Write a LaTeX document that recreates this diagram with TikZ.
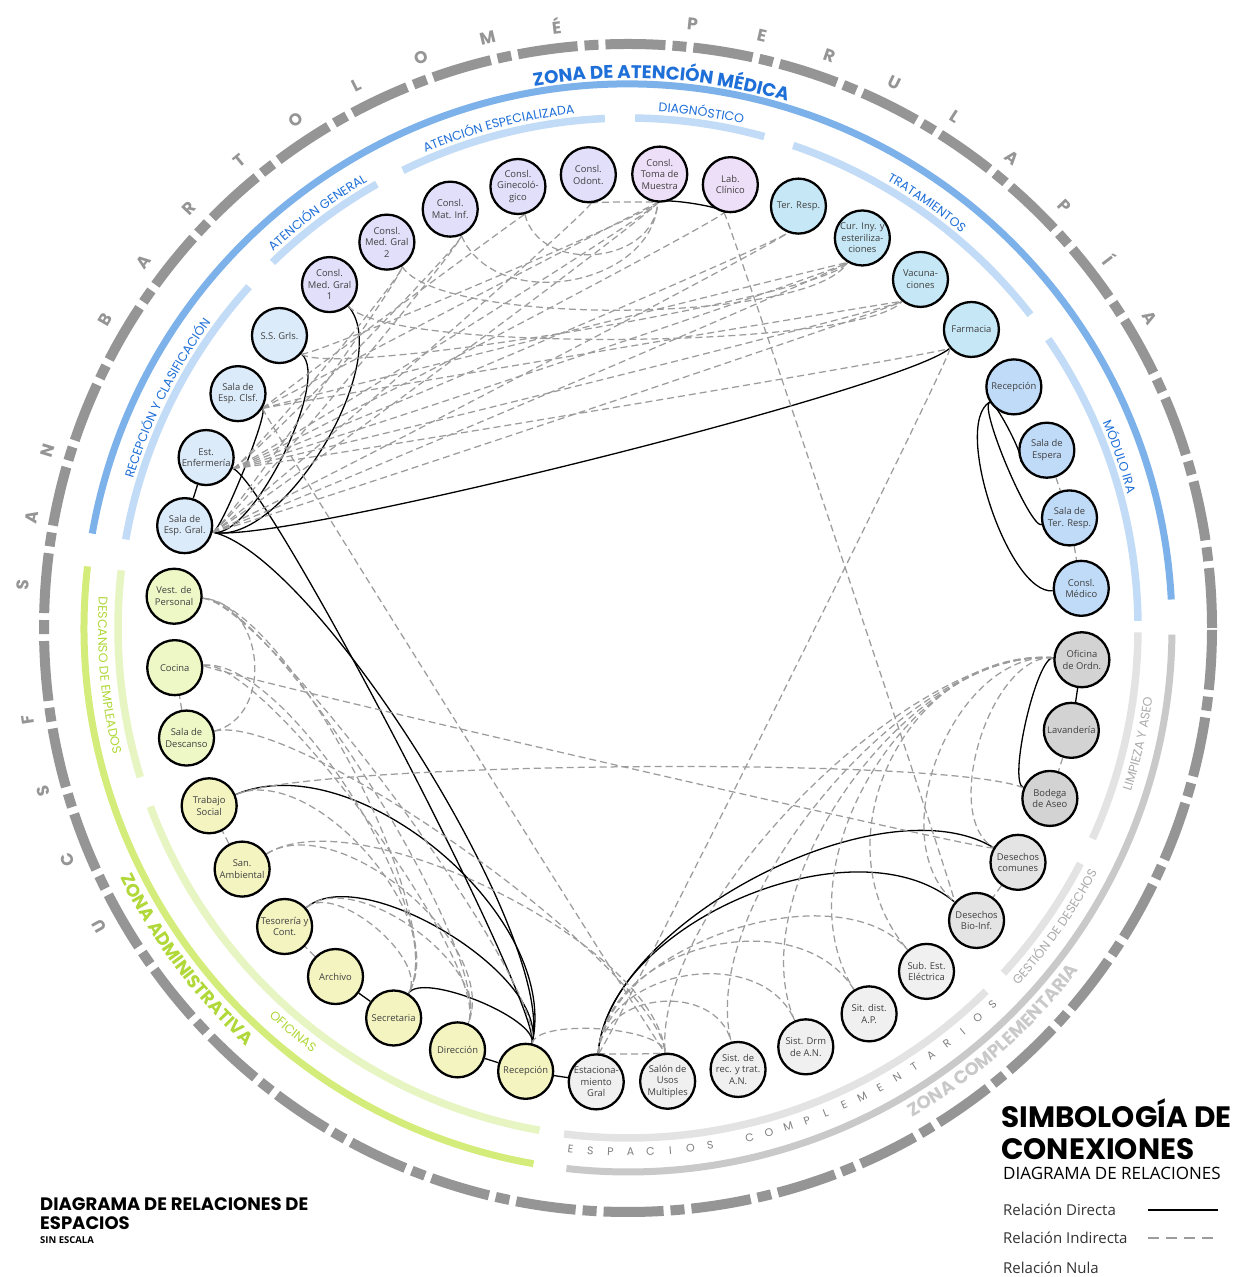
\documentclass[tikz,border=0pt]{standalone}
\usepackage{fontspec}
\setmainfont{Open Sans}
\newfontfamily\pop{Poppins}
\usetikzlibrary{calc,decorations.text}
\pgfdeclarelayer{back}
\pgfsetlayers{back,main}

% palette
\definecolor{zblue}{HTML}{7DB1E9}
\definecolor{sblue}{HTML}{C2DBF6}
\definecolor{tblue}{HTML}{1E6FD8}
\definecolor{zgreen}{HTML}{D3EC7A}
\definecolor{sgreen}{HTML}{E6F5C2}
\definecolor{tgreen}{HTML}{B0D838}
\definecolor{zgray}{HTML}{C9C9C9}
\definecolor{sgray}{HTML}{E3E3E3}
\definecolor{tgray}{HTML}{ABABAB}
\definecolor{ringgray}{HTML}{959595}
\definecolor{dgray}{HTML}{9C9C9C}
\definecolor{fA}{HTML}{DCEBFA}
\definecolor{fB}{HTML}{E2DFFA}
\definecolor{fC}{HTML}{EEDFF8}
\definecolor{fD}{HTML}{C6E8F6}
\definecolor{fE}{HTML}{C0DBF8}
\definecolor{fF}{HTML}{D3D3D3}
\definecolor{fG}{HTML}{E4E4E4}
\definecolor{fH}{HTML}{F0F0F0}
\definecolor{fI}{HTML}{F4F4C1}
\definecolor{fJ}{HTML}{EEF8C6}

% link between rooms, pulled toward the centre of the ring
\newcommand\lk[4][ind]{\draw[#1] (n#2) .. controls ($(n#2)!#4!(C)$) and ($(n#3)!#4!(C)$) .. (n#3);}
% arc of the zone rings
\newcommand\zarc[4]{\draw[#4] ($(C)+(#2:#1)$) arc[start angle=#2,end angle=#3,radius=#1];}
% curved labels: clockwise (tops outward) and counter-clockwise (tops inward)
\newcommand\cwtext[5]{\path[decorate,decoration={text along path,text align=center,text color=#4,text={|#3|#5}}]
  ($(C)+({#1+40}:#2)$) arc[start angle={#1+40},end angle={#1-40},radius=#2];}
\newcommand\ccwtext[5]{\path[decorate,decoration={text along path,text align=center,text color=#4,text={|#3|#5}}]
  ($(C)+({#1-40}:#2)$) arc[start angle={#1-40},end angle={#1+40},radius=#2];}
% spaced letters around the outer ring
\newcommand\ringletters[5]{\foreach \ch [count=\i from 0] in {#5}
  {\node[rotate={#1+\i*#2-90},font=#4,text=ringgray,inner sep=0pt] at ($(C)+({#1+\i*#2}:#3)$) {\ch};}}
\newcommand\ringlettersin[5]{\foreach \ch [count=\i from 0] in {#5}
  {\node[rotate={#1+\i*#2+90},font=#4,text=#3,inner sep=0pt] at ($(C)+({#1+\i*#2}:524)$) {\ch};}}

\begin{document}
\begin{tikzpicture}[x=1pt,y=1pt,
  nd/.style={circle,draw=black,line width=2.3pt,minimum size=55pt,inner sep=0pt,align=center,
    font=\fontsize{9.4}{11.6}\selectfont,text=black!75},
  dir/.style={draw=black,line width=1.3pt},
  ind/.style={draw=dgray,line width=1.25pt,dash pattern=on 7pt off 4pt},
  outer/.style={draw=ringgray,line width=10pt,dash pattern=on 60pt off 7pt on 14pt off 7pt},
  zb/.style={draw=zblue,line width=7pt},
  sb/.style={draw=sblue,line width=7.5pt},
  zg/.style={draw=zgreen,line width=7pt},
  sg/.style={draw=sgreen,line width=7.5pt},
  zk/.style={draw=zgray,line width=7pt},
  sk/.style={draw=sgray,line width=7.5pt},
]
\useasboundingbox (0,0) rectangle (1239,1277);
\coordinate (C) at (628,649);

% ---------- rooms ----------
\node[nd,fill=fA] (n1) at ($(C)+(167:455)$) {Sala de\\Esp. Gral.};
\node[nd,fill=fA] (n2) at ($(C)+(158:455)$) {Est.\\Enfermería};
\node[nd,fill=fA] (n3) at ($(C)+(149:455)$) {Sala de\\Esp. Clsf.};
\node[nd,fill=fA] (n4) at ($(C)+(140:455)$) {S.S. Grls.};
\node[nd,fill=fB] (n5) at ($(C)+(131:455)$) {Consl.\\Med. Gral\\1};
\node[nd,fill=fB] (n6) at ($(C)+(122:455)$) {Consl.\\Med. Gral\\2};
\node[nd,fill=fB] (n7) at ($(C)+(113:455)$) {Consl.\\Mat. Inf.};
\node[nd,fill=fB] (n8) at ($(C)+(104:455)$) {Consl.\\Ginecoló-\\gico};
\node[nd,fill=fB] (n9) at ($(C)+(95:455)$) {Consl.\\Odont.};
\node[nd,fill=fC] (n10) at ($(C)+(86:455)$) {Consl.\\Toma de\\Muestra};
\node[nd,fill=fC] (n11) at ($(C)+(77:455)$) {Lab.\\Clínico};
\node[nd,fill=fD] (n12) at ($(C)+(68:455)$) {Ter. Resp.};
\node[nd,fill=fD] (n13) at ($(C)+(59:455)$) {Cur. Iny. y\\esteriliza-\\ciones};
\node[nd,fill=fD] (n14) at ($(C)+(50:455)$) {Vacuna-\\ciones};
\node[nd,fill=fD] (n15) at ($(C)+(41:455)$) {Farmacia};
\node[nd,fill=fE] (n16) at ($(C)+(32:455)$) {Recepción};
\node[nd,fill=fE] (n17) at ($(C)+(23:455)$) {Sala de\\Espera};
\node[nd,fill=fE] (n18) at ($(C)+(14:455)$) {Sala de\\Ter. Resp.};
\node[nd,fill=fE] (n19) at ($(C)+(5:455)$) {Consl.\\Médico};
\node[nd,fill=fF] (n20) at ($(C)+(-4:455)$) {Oficina\\de Ordn.};
\node[nd,fill=fF] (n21) at ($(C)+(-13:455)$) {Lavandería};
\node[nd,fill=fF] (n22) at ($(C)+(-22:455)$) {Bodega\\de Aseo};
\node[nd,fill=fG] (n23) at ($(C)+(-31:455)$) {Desechos\\comunes};
\node[nd,fill=fG] (n24) at ($(C)+(-40:455)$) {Desechos\\Bio-Inf.};
\node[nd,fill=fH] (n25) at ($(C)+(-49:455)$) {Sub. Est.\\Eléctrica};
\node[nd,fill=fH] (n26) at ($(C)+(-58:455)$) {Sit. dist.\\A.P.};
\node[nd,fill=fH] (n27) at ($(C)+(-67:455)$) {Sist. Drm\\de A.N.};
\node[nd,fill=fH] (n28) at ($(C)+(-76:455)$) {Sist. de\\rec. y trat.\\A.N.};
\node[nd,fill=fH] (n29) at ($(C)+(-85:455)$) {Salón de\\Usos\\Multiples};
\node[nd,fill=fH] (n30) at ($(C)+(-94:455)$) {Estaciona-\\miento\\Gral};
\node[nd,fill=fI] (n31) at ($(C)+(-103:455)$) {Recepción};
\node[nd,fill=fI] (n32) at ($(C)+(-112:455)$) {Dirección};
\node[nd,fill=fI] (n33) at ($(C)+(-121:455)$) {Secretaria};
\node[nd,fill=fI] (n34) at ($(C)+(-130:455)$) {Archivo};
\node[nd,fill=fI] (n35) at ($(C)+(-139:455)$) {Tesorería y\\Cont.};
\node[nd,fill=fI] (n36) at ($(C)+(-148:455)$) {San.\\Ambiental};
\node[nd,fill=fI] (n37) at ($(C)+(-157:455)$) {Trabajo\\Social};
\node[nd,fill=fJ] (n38) at ($(C)+(-166:455)$) {Sala de\\Descanso};
\node[nd,fill=fJ] (n39) at ($(C)+(-175:455)$) {Cocina};
\node[nd,fill=fJ] (n40) at ($(C)+(176:455)$) {Vest. de\\Personal};

\begin{pgfonlayer}{back}
\fill[white] (0,0) rectangle (1239,1277);
% ---------- rings ----------
\draw[outer] (C) circle[radius=584];
\zarc{544}{170}{3}{zb}
\zarc{544}{173.5}{260}{zg}
\zarc{544}{263.5}{359.3}{zk}
\zarc{510}{170}{138}{sb}
\zarc{510}{134.2}{119.5}{sb}
\zarc{510}{116.2}{92.6}{sb}
\zarc{510}{89.2}{74.5}{sb}
\zarc{510}{71.1}{37.9}{sb}
\zarc{510}{34.5}{0.8}{sb}
\zarc{510}{173.5}{197}{sg}
\zarc{510}{200.5}{260}{sg}
\zarc{510}{262.8}{314.6}{sk}
\zarc{510}{317.4}{332.5}{sk}
\zarc{510}{335.6}{359.5}{sk}

% ---------- direct relations ----------
\draw[dir] (n1)--(n2);
\lk[dir]{1}{3}{0.08}
\lk[dir]{1}{4}{0.15}
\lk[dir]{1}{5}{0.22}
\lk[dir]{1}{15}{0.2}
\lk[dir]{1}{31}{0.3}
\lk[dir]{2}{31}{0.15}
\lk[dir]{10}{11}{0.05}
\lk[dir]{16}{17}{0.05}
\lk[dir]{16}{18}{0.09}
\lk[dir]{16}{19}{0.16}
\draw[dir] (n20)--(n21);
\lk[dir]{20}{22}{0.1}
\lk[dir]{23}{30}{0.35}
\lk[dir]{24}{30}{0.35}
\draw[dir] (n30)--(n31);
\draw[dir] (n31)--(n32);
\lk[dir]{31}{33}{0.12}
\lk[dir]{31}{35}{0.22}
\lk[dir]{31}{37}{0.35}
\draw[dir] (n33)--(n34);

% ---------- indirect relations ----------
\foreach \t in {6,7,9,10,12,13,14}{\lk{1}{\t}{0.08}}
\foreach \t in {6,7,10,11,12,13,14,15}{\lk{2}{\t}{0.08}}
\foreach \t in {8,10,13,14}{\lk{3}{\t}{0.06}}
\lk{3}{29}{0.05}
\lk{4}{13}{0.15}
\lk{4}{10}{0.08}
\lk{5}{14}{0.2}
\lk{6}{13}{0.22}
\lk{7}{10}{0.25}
\lk{8}{10}{0.2}
\lk{9}{10}{0.06}
\lk{11}{24}{0.05}
\lk{15}{30}{0.03}
\draw[ind] (n17)--(n18);
\draw[ind] (n18)--(n19);
\lk{20}{23}{0.2}
\lk{20}{24}{0.28}
\foreach \t in {25,26,27,28,29}{\lk{20}{\t}{0.38}}
\draw[ind] (n21)--(n22);
\lk{22}{37}{0.25}
\draw[ind] (n23)--(n24);
\lk{23}{39}{0.02}
\lk{30}{25}{0.3}
\lk{30}{26}{0.3}
\lk{30}{27}{0.25}
\lk{30}{28}{0.2}
\lk{30}{29}{0.06}
\lk{31}{29}{0.12}
\lk{38}{40}{0.2}
\draw[ind] (n38)--(n39);
\lk{40}{31}{0.2}
\lk{40}{33}{0.25}
\lk{40}{32}{0.22}
\lk{39}{33}{0.25}
\lk{39}{32}{0.2}
\lk{38}{29}{0.25}
\draw[ind] (n36)--(n37);
\lk{37}{33}{0.25}
\lk{36}{29}{0.3}
\lk{36}{32}{0.25}
\lk{35}{33}{0.15}
\lk{35}{32}{0.2}
\draw[ind] (n34)--(n35);
\end{pgfonlayer}

% ---------- ring labels ----------
\cwtext{86.5}{550}{\pop\bfseries\fontsize{18.3}{18.3}\selectfont}{tblue}{ZONA DE ATENCIÓN MÉDICA}
\cwtext{153.5}{517}{\pop\fontsize{12.5}{12.5}\selectfont}{tblue}{RECEPCIÓN Y CLASIFICACIÓN}
\cwtext{126.8}{517}{\pop\fontsize{12.5}{12.5}\selectfont}{tblue}{ATENCIÓN GENERAL}
\cwtext{104.5}{517}{\pop\fontsize{12.5}{12.5}\selectfont}{tblue}{ATENCIÓN ESPECIALIZADA}
\cwtext{81.9}{517}{\pop\fontsize{12.5}{12.5}\selectfont}{tblue}{DIAGNÓSTICO}
\cwtext{54.9}{517}{\pop\fontsize{12.5}{12.5}\selectfont}{tblue}{TRATAMIENTOS}
\cwtext{19.2}{517}{\pop\fontsize{12.5}{12.5}\selectfont}{tblue}{MÓDULO IRA}
\ccwtext{185.2}{530}{\pop\fontsize{12.5}{12.5}\selectfont}{tgreen}{DESCANSO DE EMPLEADOS}
\ccwtext{230.3}{529}{\pop\fontsize{12.5}{12.5}\selectfont}{tgreen}{OFICINAS}
\ccwtext{325}{529}{\pop\fontsize{12.5}{12.5}\selectfont}{tgray}{GESTIÓN DE DESECHOS}
\ccwtext{347.2}{529}{\pop\fontsize{12.5}{12.5}\selectfont}{tgray}{LIMPIEZA Y ASEO}
\ccwtext{216.9}{566}{\pop\bfseries\fontsize{18}{18}\selectfont}{tgreen}{ZONA ADMINISTRATIVA}
\ccwtext{311.5}{566}{\pop\bfseries\fontsize{18}{18}\selectfont}{zgray}{ZONA COMPLEMENTARIA}
\ringlettersin{263.7}{2.19}{gray}{\pop\fontsize{11}{11}\selectfont}{E,S,P,A,C,I,O,S,{},C,O,M,P,L,E,M,E,N,T,A,R,I,O,S}

\ringletters{175.9}{-6.45}{607}{\pop\bfseries\fontsize{17}{17}\selectfont}{S,A,N}
\ringletters{149.5}{-6.59}{607}{\pop\bfseries\fontsize{17}{17}\selectfont}{B,A,R,T,O,L,O,M,É}
\ringletters{83.9}{-6.64}{607}{\pop\bfseries\fontsize{17}{17}\selectfont}{P,E,R,U,L,A,P,Í,A}
\ringletters{209.4}{-6.9}{607}{\pop\bfseries\fontsize{17}{17}\selectfont}{U,C,S,F}

% ---------- titles ----------
\node[anchor=base west,inner sep=0pt,font=\pop\bfseries\fontsize{18}{18}\selectfont] (t1) at (40,66) {DIAGRAMA DE RELACIONES DE};
\node[anchor=base west,inner sep=0pt,font=\pop\bfseries\fontsize{18}{18}\selectfont] (t2) at (40,47) {ESPACIOS};
\node[anchor=base west,inner sep=0pt,font=\bfseries\fontsize{9.5}{9.5}\selectfont] (t3) at (40,33) {SIN ESCALA};

% ---------- legend ----------
\node[anchor=base west,inner sep=0pt,font=\pop\bfseries\fontsize{29.5}{29.5}\selectfont] (lg1) at (1001,149) {SIMBOLOGÍA DE};
\node[anchor=base west,inner sep=0pt,font=\pop\bfseries\fontsize{29.5}{29.5}\selectfont] (lg2) at (1001,117) {CONEXIONES};
\node[anchor=base west,inner sep=0pt,font=\fontsize{17}{17}\selectfont] (lg3) at (1003,97) {DIAGRAMA DE RELACIONES};
\node[anchor=base west,inner sep=0pt,font=\fontsize{15}{15}\selectfont,text=black!80] (lgd) at (1003,61) {Relación Directa};
\node[anchor=base west,inner sep=0pt,font=\fontsize{15}{15}\selectfont,text=black!80] (lgi) at (1003,33) {Relación Indirecta};
\node[anchor=base west,inner sep=0pt,font=\fontsize{15}{15}\selectfont,text=black!80] (lgn) at (1003,4) {Relación Nula};
\coordinate (d1) at (1148,67);
\coordinate (d2) at (1218,67);
\coordinate (i1) at (1148,39);
\coordinate (i2) at (1218,39);
\draw[black,line width=2.2pt] (d1)--(d2);
\draw[dgray,line width=1.8pt,dash pattern=on 11pt off 7pt] (i1)--(i2);
\end{tikzpicture}
\end{document}
